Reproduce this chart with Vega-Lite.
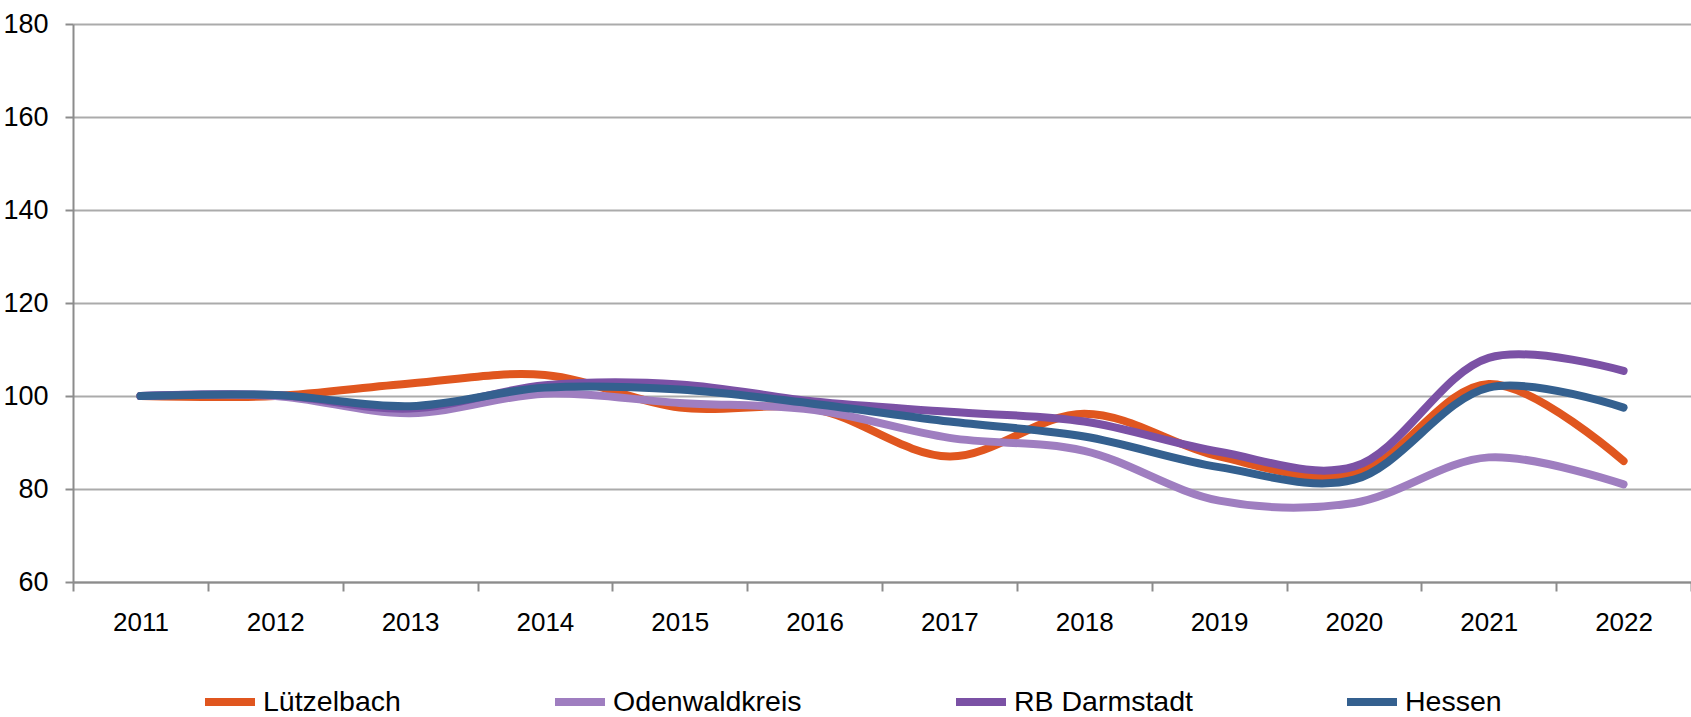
{
  "$schema": "https://vega.github.io/schema/vega-lite/v6.json",
  "width": 1618,
  "height": 558,
  "autosize": {"type": "none"},
  "padding": {"left": 73, "top": 24, "right": 0, "bottom": 135},
  "background": "white",
  "config": {
    "view": {"stroke": null},
    "font": "Liberation Sans, Arial, sans-serif"
  },
  "data": {
    "values": [
      {"year": "2011", "series": "Lützelbach", "value": 100},
      {"year": "2012", "series": "Lützelbach", "value": 100},
      {"year": "2013", "series": "Lützelbach", "value": 102.7},
      {"year": "2014", "series": "Lützelbach", "value": 104.5},
      {"year": "2015", "series": "Lützelbach", "value": 97.5},
      {"year": "2016", "series": "Lützelbach", "value": 97.2},
      {"year": "2017", "series": "Lützelbach", "value": 87},
      {"year": "2018", "series": "Lützelbach", "value": 96.2},
      {"year": "2019", "series": "Lützelbach", "value": 87},
      {"year": "2020", "series": "Lützelbach", "value": 83.2},
      {"year": "2021", "series": "Lützelbach", "value": 102.6},
      {"year": "2022", "series": "Lützelbach", "value": 86},
      {"year": "2011", "series": "Odenwaldkreis", "value": 100},
      {"year": "2012", "series": "Odenwaldkreis", "value": 100},
      {"year": "2013", "series": "Odenwaldkreis", "value": 96.3},
      {"year": "2014", "series": "Odenwaldkreis", "value": 100.5},
      {"year": "2015", "series": "Odenwaldkreis", "value": 98.5},
      {"year": "2016", "series": "Odenwaldkreis", "value": 97},
      {"year": "2017", "series": "Odenwaldkreis", "value": 91},
      {"year": "2018", "series": "Odenwaldkreis", "value": 88.2},
      {"year": "2019", "series": "Odenwaldkreis", "value": 77.5},
      {"year": "2020", "series": "Odenwaldkreis", "value": 77},
      {"year": "2021", "series": "Odenwaldkreis", "value": 86.8},
      {"year": "2022", "series": "Odenwaldkreis", "value": 81},
      {"year": "2011", "series": "RB Darmstadt", "value": 100},
      {"year": "2012", "series": "RB Darmstadt", "value": 100.2},
      {"year": "2013", "series": "RB Darmstadt", "value": 97.3},
      {"year": "2014", "series": "RB Darmstadt", "value": 102.3},
      {"year": "2015", "series": "RB Darmstadt", "value": 102.5},
      {"year": "2016", "series": "RB Darmstadt", "value": 98.8},
      {"year": "2017", "series": "RB Darmstadt", "value": 96.6},
      {"year": "2018", "series": "RB Darmstadt", "value": 94.5},
      {"year": "2019", "series": "RB Darmstadt", "value": 88},
      {"year": "2020", "series": "RB Darmstadt", "value": 84.8},
      {"year": "2021", "series": "RB Darmstadt", "value": 108.2},
      {"year": "2022", "series": "RB Darmstadt", "value": 105.4},
      {"year": "2011", "series": "Hessen", "value": 100},
      {"year": "2012", "series": "Hessen", "value": 100.2},
      {"year": "2013", "series": "Hessen", "value": 97.8},
      {"year": "2014", "series": "Hessen", "value": 101.8},
      {"year": "2015", "series": "Hessen", "value": 101.4},
      {"year": "2016", "series": "Hessen", "value": 98.3},
      {"year": "2017", "series": "Hessen", "value": 94.5},
      {"year": "2018", "series": "Hessen", "value": 91.3},
      {"year": "2019", "series": "Hessen", "value": 84.7},
      {"year": "2020", "series": "Hessen", "value": 82},
      {"year": "2021", "series": "Hessen", "value": 101.8},
      {"year": "2022", "series": "Hessen", "value": 97.5}
    ]
  },
  "mark": {"type": "line", "interpolate": "catmull-rom", "strokeWidth": 8, "strokeCap": "round", "strokeJoin": "round"},
  "encoding": {
    "x": {
      "field": "year", "type": "ordinal",
      "scale": {"type": "band", "paddingInner": 0, "paddingOuter": 0},
      "axis": {
        "title": null, "labelAngle": 0, "tickBand": "extent",
        "domainColor": "#8c8c8c", "domainWidth": 2,
        "tickColor": "#8c8c8c", "tickWidth": 2, "tickSize": 9,
        "labelFontSize": 26, "labelColor": "#000000", "labelPadding": 18,
        "grid": false
      }
    },
    "y": {
      "field": "value", "type": "quantitative",
      "scale": {"domain": [60, 180], "nice": false, "zero": false},
      "axis": {
        "title": null, "values": [60, 80, 100, 120, 140, 160, 180],
        "domainColor": "#8c8c8c", "domainWidth": 2,
        "tickColor": "#8c8c8c", "tickWidth": 2, "tickSize": 8,
        "gridColor": "#ababab", "gridWidth": 2,
        "labelFontSize": 27, "labelColor": "#000000", "labelPadding": 17
      }
    },
    "color": {
      "field": "series", "type": "nominal",
      "scale": {
        "domain": ["Lützelbach", "Odenwaldkreis", "RB Darmstadt", "Hessen"],
        "range": ["#e0561f", "#9f7ec0", "#7b51a5", "#34608f"]
      },
      "legend": {
        "title": null, "orient": "none", "legendX": 128, "legendY": 649,
        "direction": "horizontal", "columns": 4, "columnPadding": 138,
        "symbolType": "stroke", "symbolSize": 2500, "symbolStrokeWidth": 8,
        "labelFontSize": 28.5, "labelColor": "#000000", "labelOffset": 4,
        "padding": 0, "labelLimit": 400
      }
    },
    "order": {"field": "series"}
  }
}
